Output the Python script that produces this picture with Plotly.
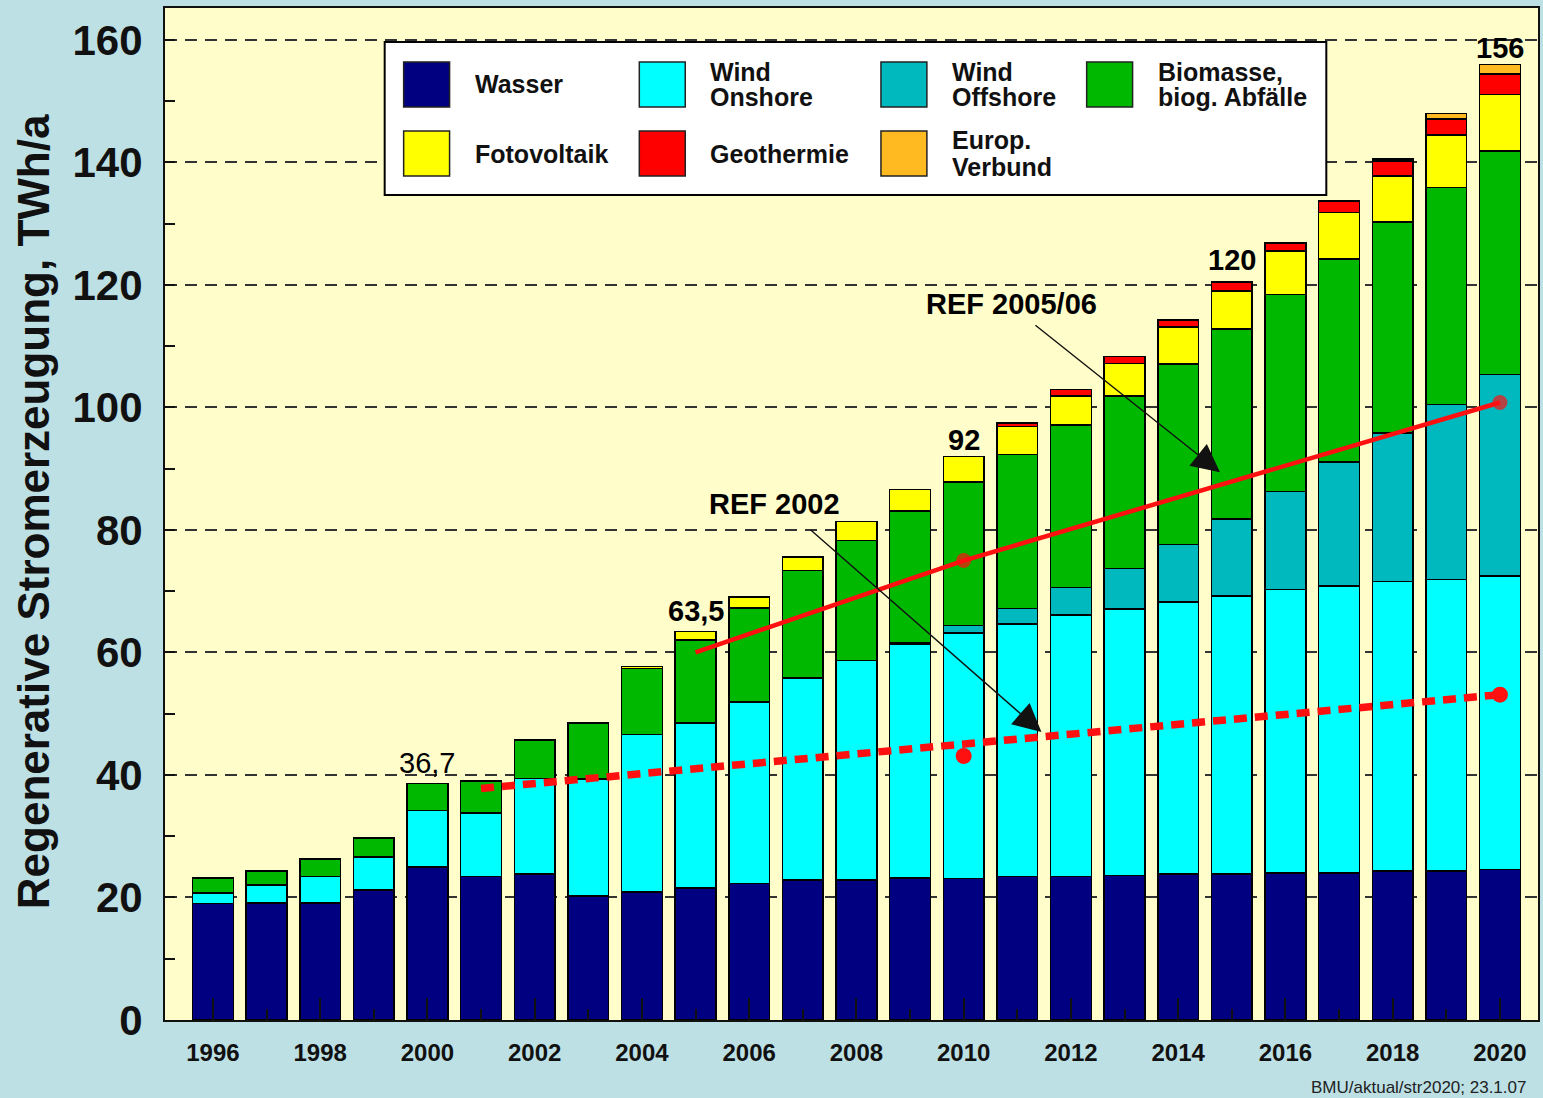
import plotly.graph_objects as go

# ---------------- data ----------------
years = list(range(1996, 2021))

wasser = [19.0, 19.1, 19.1, 21.2, 25.0, 23.4, 23.8, 20.2, 20.9, 21.5, 22.3, 22.9, 22.9,
          23.2, 23.1, 23.4, 23.4, 23.6, 23.8, 23.8, 24.0, 24.0, 24.3, 24.3, 24.6]
wind_onshore = [1.7, 2.9, 4.3, 5.4, 9.2, 10.4, 15.6, 19.1, 25.7, 27.0, 29.6, 32.9, 35.8,
                38.1, 40.1, 41.2, 42.7, 43.5, 44.4, 45.4, 46.3, 46.8, 47.3, 47.6, 47.9]
wind_offshore = [0, 0, 0, 0, 0, 0, 0, 0, 0, 0, 0, 0, 0,
                 0.2, 1.2, 2.6, 4.5, 6.6, 9.4, 12.6, 16.0, 20.3, 24.2, 28.6, 32.9]
biomasse = [2.5, 2.3, 2.9, 3.1, 4.4, 5.2, 6.2, 9.2, 10.8, 13.5, 15.4, 17.6, 19.6,
            21.6, 23.4, 25.1, 26.5, 28.2, 29.5, 31.0, 32.1, 33.1, 34.5, 35.4, 36.5]
fotovoltaik = [0, 0, 0, 0, 0, 0, 0.1, 0, 0.3, 1.4, 1.8, 2.2, 3.1,
               3.5, 4.2, 4.6, 4.8, 5.3, 6.0, 6.2, 7.1, 7.6, 7.5, 8.6, 9.2]
geothermie = [0, 0, 0, 0, 0, 0, 0, 0, 0, 0, 0, 0, 0,
              0, 0, 0.6, 1.0, 1.1, 1.2, 1.5, 1.3, 1.9, 2.4, 2.6, 3.3]
europ_verbund = [0, 0, 0, 0, 0, 0, 0, 0, 0, 0, 0, 0, 0,
                 0, 0, 0, 0, 0, 0, 0, 0, 0, 0.4, 0.9, 1.6]

series_names = ["Wasser", "Wind<br>Onshore", "Wind<br>Offshore", "Biomasse,<br>biog. Abfälle",
                "Fotovoltaik", "Geothermie", "Europ.<br>Verbund"]
series_values = [wasser, wind_onshore, wind_offshore, biomasse, fotovoltaik, geothermie, europ_verbund]
series_colors = ["#000080", "#00FFFF", "#00B9BF", "#00B800", "#FFFF00", "#FF0000", "#FFB921"]

# reference scenario lines
ref0506_years = [2005, 2010, 2020]
ref0506_values = [60.0, 75.0, 100.8]
ref2002_line_years = [2001, 2020]
ref2002_line_values = [37.8, 53.1]
ref2002_point_years = [2010, 2020]
ref2002_point_values = [43.1, 53.1]

total_label_years = [2000, 2005, 2010, 2015, 2020]
total_label_text = ["36,7", "63,5", "92", "120", "156"]
total_label_y = [42.0, 66.8, 94.6, 124.0, 158.7]

# ---------------- layout helpers ----------------
W, H = 1543, 1098
L, R, T, B = 165, 3, 8, 78
PW, PH = W - L - R, H - T - B
FONT = "Liberation Sans, Arial, sans-serif"


def px(x):
    return (x - L) / PW


def py(y):
    return 1 - (y - T) / PH


fig = go.Figure()

for name, vals, col in zip(series_names, series_values, series_colors):
    fig.add_trace(go.Bar(
        x=years, y=vals, name=name.replace("<br>", " "),
        marker=dict(color=col, line=dict(color="black", width=1.6)),
        width=0.76, showlegend=False,
    ))

# REF 2005/06 (solid)
fig.add_trace(go.Scatter(
    x=ref0506_years, y=ref0506_values, mode="lines+markers",
    line=dict(color="#FF1010", width=4.5),
    marker=dict(size=[0, 15, 15], color="#FF1010", line=dict(width=0)),
    showlegend=False,
))
# REF 2002 (dotted)
fig.add_trace(go.Scatter(
    x=ref2002_line_years, y=ref2002_line_values, mode="lines",
    line=dict(color="#FF1010", width=7.5, dash="13px,8px"),
    showlegend=False,
))
fig.add_trace(go.Scatter(
    x=ref2002_point_years, y=ref2002_point_values, mode="markers",
    marker=dict(size=16, color="#FF1010", line=dict(width=0)),
    showlegend=False,
))

annotations = []
shapes = []

# total labels
for yr, txt, yy in zip(total_label_years, total_label_text, total_label_y):
    annotations.append(dict(
        x=yr, y=yy, xref="x", yref="y", text=txt if txt == "36,7" else "<b>" + txt + "</b>",
        showarrow=False, font=dict(family=FONT, size=29, color="black"),
        xanchor="center", yanchor="middle",
    ))

# REF texts and arrows
annotations.append(dict(x=2010.9, y=116.9, xref="x", yref="y", text="<b>REF 2005/06</b>",
                        showarrow=False, font=dict(family=FONT, size=29, color="black")))
annotations.append(dict(x=2006.47, y=84.3, xref="x", yref="y", text="<b>REF 2002</b>",
                        showarrow=False, font=dict(family=FONT, size=29, color="black")))
annotations.append(dict(x=2014.78, y=89.4, ax=2011.31, ay=113.6, xref="x", yref="y",
                        axref="x", ayref="y", text="", showarrow=True, arrowhead=2,
                        arrowsize=4, arrowwidth=1.4, arrowcolor="#111111", standoff=0))
annotations.append(dict(x=2011.45, y=47.0, ax=2007.12, ay=80.2, xref="x", yref="y",
                        axref="x", ayref="y", text="", showarrow=True, arrowhead=2,
                        arrowsize=4, arrowwidth=1.4, arrowcolor="#111111", standoff=0))

# y axis title
annotations.append(dict(x=px(33), y=py(512), xref="paper", yref="paper",
                        text="<b>Regenerative Stromerzeugung, TWh/a</b>", textangle=-90,
                        showarrow=False, xanchor="center", yanchor="middle",
                        font=dict(family=FONT, size=44, color="#111111")))
# source
annotations.append(dict(x=px(1530), y=py(1087), xref="paper", yref="paper",
                        text="BMU/aktual/str2020; 23.1.07", showarrow=False,
                        xanchor="right", yanchor="middle",
                        font=dict(family=FONT, size=17, color="#222222")))

# custom legend
shapes.append(dict(type="rect", xref="paper", yref="paper", x0=px(385), x1=px(1328),
                   y0=py(195), y1=py(42), fillcolor="white",
                   line=dict(color="black", width=2), layer="above"))
col_x = [404, 640, 882, 1088]
row_y = [84.5, 153.5]
positions = [(0, 0), (0, 1), (0, 2), (0, 3), (1, 0), (1, 1), (1, 2)]
for (r, c), name, col in zip(positions, series_names, series_colors):
    x0 = col_x[c]
    yc = row_y[r]
    shapes.append(dict(type="rect", xref="paper", yref="paper", x0=px(x0), x1=px(x0 + 46),
                       y0=py(yc + 22.5), y1=py(yc - 22.5), fillcolor=col,
                       line=dict(color="#222222", width=1.5), layer="above"))
    lines = name.split("<br>")
    n = len(lines)
    for i, ln in enumerate(lines):
        yl = yc + (i - (n - 1) / 2) * 26
        annotations.append(dict(x=px(x0 + 69), y=py(yl), xref="paper", yref="paper",
                                text="<b>" + ln + "</b>", showarrow=False,
                                xanchor="left", yanchor="middle",
                                font=dict(family=FONT, size=25, color="#111111")))

fig.update_layout(
    width=W, height=H,
    margin=dict(l=L, r=R, t=T, b=B, pad=0),
    paper_bgcolor="#BDE0E5",
    plot_bgcolor="#FFFDC9",
    barmode="stack",
    bargap=0.24,
    showlegend=False,
    annotations=annotations,
    shapes=shapes,
    font=dict(family=FONT, color="#111111"),
)

fig.update_xaxes(
    range=[1995.106, 2020.71],
    tickmode="linear", tick0=1996, dtick=2,
    ticks="inside", ticklen=22, tickwidth=2, tickcolor="#111111",
    minor=dict(ticks="inside", ticklen=11, tickwidth=1.5, tickcolor="#111111",
               dtick=1, tick0=1996, showgrid=False),
    showgrid=False, zeroline=False,
    showline=True, linewidth=2, linecolor="#111111", mirror=True,
    tickfont=dict(family=FONT, size=24, color="#111111", weight="bold"),
    ticklabelstandoff=10,
)
fig.update_yaxes(
    range=[0, 165.2],
    tickmode="linear", tick0=0, dtick=20,
    ticks="inside", ticklen=10, tickwidth=2, tickcolor="#111111",
    minor=dict(ticks="inside", ticklen=10, tickwidth=2, tickcolor="#111111",
               dtick=10, tick0=0, showgrid=False),
    showgrid=True, gridcolor="#333333", gridwidth=1.6, griddash="12px,8px",
    zeroline=False,
    showline=True, linewidth=2, linecolor="#111111", mirror=True,
    tickfont=dict(family=FONT, size=42, color="#111111", weight="bold"),
    ticklabelstandoff=12,
)

fig.write_html(
    "out.html",
    config={"displayModeBar": False},
    post_script="document.body.style.margin='0px';document.body.style.overflow='hidden';",
)
